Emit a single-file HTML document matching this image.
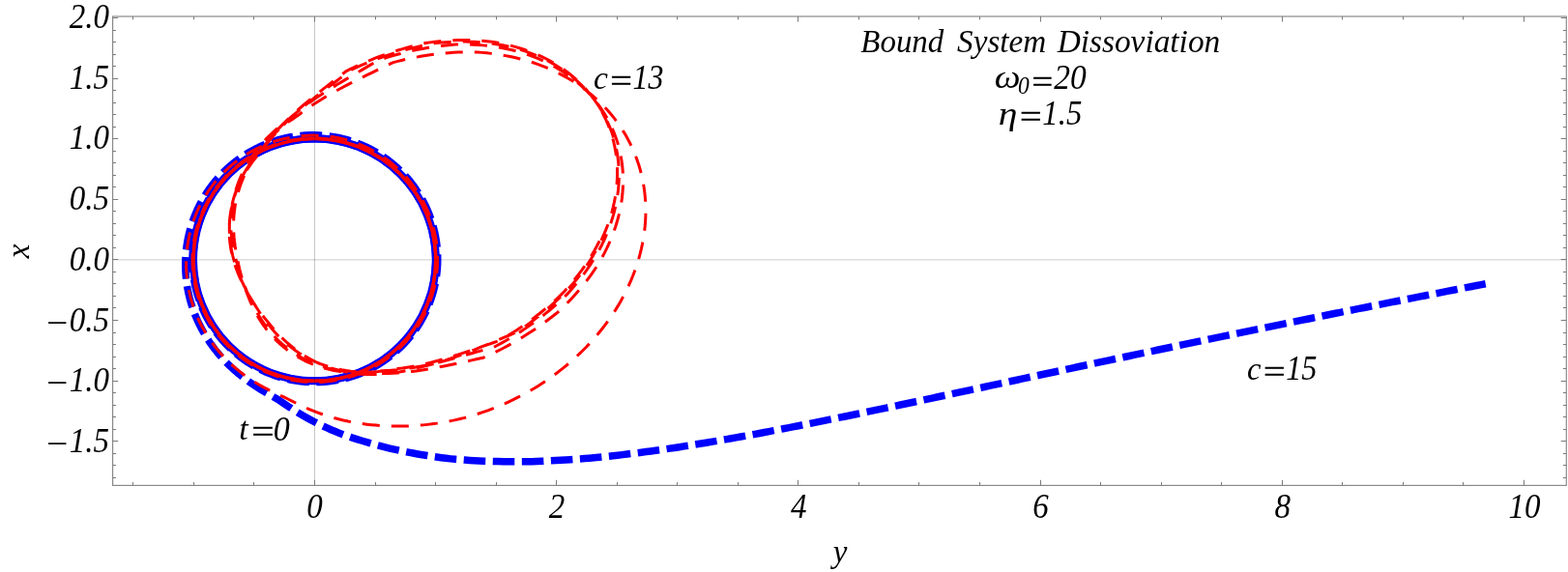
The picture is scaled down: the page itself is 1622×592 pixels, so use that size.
<!DOCTYPE html>
<html lang="en"><head><meta charset="utf-8"><title>Bound System Dissoviation</title>
<style>html,body{margin:0;padding:0;background:#fff}body{width:1622px;height:592px;overflow:hidden}svg{display:block}</style>
</head><body>
<svg width="1622" height="592" viewBox="0 0 1622 592">
<rect x="0" y="0" width="1622" height="592" fill="#fff"/>
<g fill="none" stroke-linecap="butt" stroke-linejoin="round">
<circle cx="325.40" cy="268.90" r="125.15" stroke="#0000ff" stroke-width="7.52"/>
<path stroke="#0000ff" stroke-width="7.52" stroke-dasharray="22.56 7.52" stroke-dashoffset="25.53" d="M450.52 266.36L450.33 261.41L449.93 256.47L449.34 251.56L448.56 246.67L447.59 241.81L446.42 237.00L445.07 232.24L443.53 227.54L441.80 222.91L439.90 218.34L437.81 213.86L435.55 209.46L433.12 205.16L430.53 200.95L427.76 196.85L424.84 192.87L421.77 189.00L418.54 185.26L415.18 181.64L411.67 178.17L408.03 174.83L404.26 171.65L400.36 168.61L396.36 165.73L392.24 163.01L388.02 160.45L383.70 158.06L379.29 155.85L374.80 153.81L370.23 151.95L365.59 150.27L360.89 148.77L356.13 147.46L351.33 146.34L346.49 145.41L341.61 144.67L336.71 144.12L331.80 143.76L326.87 143.60L321.94 143.63L317.02 143.86L312.11 144.28L307.22 144.89L302.35 145.70L297.53 146.69L292.74 147.87L288.01 149.25L283.33 150.80L278.72 152.54L274.19 154.46L269.73 156.55L265.35 158.82L261.07 161.26L256.89 163.86L252.82 166.63L248.85 169.55L245.01 172.63L241.28 175.86L237.69 179.23L234.24 182.74L230.92 186.38L227.75 190.15L224.73 194.04L221.87 198.04L219.16 202.16L216.62 206.38L214.25 210.69L212.04 215.10L210.02 219.58L208.17 224.15L206.50 228.78L205.01 233.48L203.71 238.22L202.60 243.02L201.68 247.86L200.95 252.73L200.41 257.62L200.06 262.53L199.90 267.45L199.94 272.37L200.17 277.29L200.60 282.19L201.21 287.08L202.02 291.93L203.02 296.75L204.21 301.53L205.58 306.26L207.14 310.93L208.88 315.53L210.80 320.07L212.89 324.52L215.16 328.89L217.60 333.17L220.20 337.34L222.97 341.41L225.90 345.37L228.97 349.22L232.20 352.93L235.57 356.52L239.08 359.98L242.72 363.29L246.49 366.46L250.38 369.48L254.38 372.34L258.50 375.05L262.72 377.59L267.04 379.96L271.44 382.16L275.93 384.19L280.50 386.04L285.13 387.70L289.83 389.19L294.58 390.49L299.38 391.60L304.22 392.52L309.09 393.25L313.98 393.79L318.90 394.14L323.82 394.29L328.75 394.25L333.67 394.02L338.58 393.59L343.46 392.97L348.32 392.16L353.15 391.16L357.93 389.97L362.66 388.60L367.33 387.04L371.94 385.29L376.48 383.37L380.94 381.26L385.31 378.99L389.60 376.54L393.78 373.93L397.85 371.16L401.82 368.23L405.66 365.14L409.38 361.91L412.97 358.53L416.43 355.01L419.74 351.36L422.91 347.58L425.93 343.68L428.79 339.67L431.49 335.54L434.03 331.31L436.40 326.99L438.60 322.58L440.62 318.08L442.47 313.51L444.13 308.86L445.61 304.16L446.90 299.40L448.01 294.60L448.92 289.75L449.65 284.87L450.18 279.97L450.52 275.05L450.66 270.12L450.62 265.19L450.37 260.26L449.94 255.35L449.31 250.46L448.49 245.60L447.48 240.77L446.28 235.99L444.89 231.25L443.32 226.58L441.56 221.97L439.63 217.43L437.52 212.98L435.24 208.61L432.78 204.33L430.16 200.15L427.38 196.08L424.44 192.13L421.35 188.29L418.10 184.57L414.72 180.99L411.20 177.54L407.54 174.23L403.76 171.07L399.86 168.06L395.84 165.21L391.71 162.52L387.48 159.99L383.16 157.62L378.74 155.44L374.25 153.42L369.68 151.59L365.04 149.93L360.33 148.46L355.58 147.17L350.78 146.07L345.93 145.17L341.06 144.45L336.16 143.92L331.25 143.59L326.33 143.45L321.40 143.50L316.48 143.75L311.58 144.18L306.70 144.82L301.84 145.64L297.02 146.65L292.25 147.85L287.52 149.23L282.86 150.80L278.26 152.56L273.73 154.49L269.28 156.59L264.92 158.87L260.66 161.32L256.49 163.93L252.42 166.71L248.47 169.64L244.64 172.72L240.93 175.95L237.35 179.33L233.91 182.84L230.60 186.48L227.45 190.25L224.44 194.14L221.58 198.15L218.89 202.26L216.36 206.48L214.00 210.79L211.80 215.19L209.78 219.67L207.94 224.23L206.28 228.86L204.80 233.55L203.51 238.29L202.40 243.08L201.48 247.91L200.75 252.77L200.21 257.66L199.86 262.56L199.71 267.47L199.75 272.39L199.98 277.30L200.40 282.20L201.01 287.07L201.82 291.92L202.81 296.73L203.99 301.51L205.35 306.23L206.90 310.89L208.64 315.49L210.54 320.02L212.63 324.47L214.89 328.83L217.31 333.11L219.91 337.28L222.66 341.35L225.57 345.31L228.63 349.15L231.85 352.87L235.20 356.47L238.69 359.92L242.32 363.24L246.07 366.42L249.94 369.44L253.93 372.31L258.03 375.03L262.24 377.58L266.53 379.96L270.92 382.18L275.40 384.22L279.94 386.08L284.56 387.77L289.24 389.27L293.98 390.59L298.76 391.72L303.59 392.67L308.44 393.42L313.33 393.99L318.23 394.36L323.14 394.54L328.06 394.53L332.97 394.33L337.87 393.93L342.75 393.34L347.61 392.57L352.43 391.60L357.21 390.45L361.94 389.10L366.61 387.58L371.22 385.87L375.77 383.99L380.23 381.92L384.61 379.69L388.90 377.28L393.10 374.71L397.19 371.98L401.17 369.09L405.03 366.04L408.77 362.85L412.38 359.51L415.86 356.03L419.20 352.42L422.40 348.69L425.45 344.83L428.35 340.85L431.08 336.76L433.66 332.57L436.07 328.29L438.31 323.91L440.38 319.44L442.27 314.90L443.98 310.29L445.51 305.62L446.86 300.89L448.02 296.11L448.99 291.29L449.77 286.43L450.37 281.55L450.77 276.65L450.98 271.73L451.00 266.81L450.82 261.90L450.45 256.99L449.90 252.11L449.15 247.25L448.21 242.42L447.08 237.63L445.77 232.89L444.27 228.21L442.60 223.59L440.74 219.03L438.71 214.56L436.50 210.17L434.12 205.86L431.58 201.65L428.87 197.55L426.01 193.55L422.99 189.67L419.83 185.91L416.52 182.28L413.07 178.78L409.49 175.42L405.78 172.20L401.94 169.13L397.99 166.21L393.93 163.44L389.77 160.84L385.50 158.40L381.15 156.13L376.71 154.03L372.19 152.11L367.60 150.36L362.95 148.79L358.24 147.41L353.48 146.21L348.68 145.20L343.84 144.37L338.97 143.74L334.09 143.29L329.18 143.04L324.28 142.98L319.37 143.10L314.48 143.42L309.60 143.93L304.74 144.63L299.92 145.52L295.13 146.59L290.39 147.85L285.71 149.29L281.08 150.91L276.53 152.71L272.04 154.69L267.64 156.84L263.32 159.16L259.10 161.64L254.97 164.29L250.96 167.09L247.05 170.05L243.27 173.16L239.61 176.41L236.07 179.80L232.67 183.33L229.41 186.98L226.30 190.76L223.33 194.65L220.52 198.66L217.87 202.77L215.38 206.98L213.05 211.29L210.89 215.68L208.91 220.15L207.10 224.70L205.46 229.31L204.01 233.98L202.74 238.71L201.65 243.47L200.75 248.28L200.03 253.12L199.51 257.98L199.17 262.86L199.02 267.74L199.06 272.63L199.29 277.51L199.71 282.38L200.31 287.23L201.11 292.06L202.08 296.84L203.25 301.59L204.59 306.29L206.12 310.93L207.82 315.50L209.70 320.01L211.75 324.45L213.98 328.79L216.36 333.05L218.91 337.22L221.62 341.28L224.49 345.24L227.50 349.08L230.66 352.80L233.96 356.40L237.40 359.86L240.96 363.20L244.66 366.39L248.47 369.43L252.40 372.33L256.44 375.07L260.58 377.66L264.81 380.08L269.14 382.34L273.55 384.43L278.03 386.35L282.59 388.10L287.21 389.66L291.89 391.05L296.61 392.26L301.38 393.28L306.18 394.12L311.02 394.78L315.87 395.25L320.74 395.53L325.61 395.62L330.48 395.53L335.35 395.25L340.20 394.78L345.03 394.13L349.83 393.29L354.59 392.27L359.32 391.07L363.99 389.68L368.61 388.12L373.16 386.38L377.64 384.47L382.05 382.39L386.37 380.14L390.60 377.73L394.73 375.16L398.77 372.43L402.69 369.55L406.51 366.52L410.20 363.35L413.77 360.04L417.20 356.59L420.51 353.02L423.67 349.32L426.69 345.51L429.57 341.59L432.28 337.55L434.85 333.42L437.25 329.20L439.49 324.88L441.57 320.49L443.47 316.02L445.20 311.48L446.76 306.88L448.14 302.22L449.35 297.51L450.37 292.76L451.21 287.98L451.87 283.17L452.35 278.34L452.64 273.49L452.75 268.64L452.67 263.79L452.41 258.95L451.97 254.12L451.34 249.31L450.53 244.53L449.54 239.79L448.38 235.09L447.03 230.43L445.51 225.83L443.82 221.30L441.97 216.83L439.94 212.44L437.75 208.12L435.40 203.90L432.89 199.77L430.23 195.73L427.42 191.80L424.47 187.98L421.37 184.27L418.14 180.68L414.78 177.22L411.29 173.89L407.68 170.69L403.95 167.63L399.97 164.60L395.87 161.74L391.67 159.03L387.37 156.50L382.98 154.13L378.50 151.93L373.94 149.91L369.31 148.07L364.61 146.41L359.85 144.93L355.05 143.63L350.20 142.52L345.31 141.60L340.39 140.87L335.45 140.32L330.50 139.97L325.54 139.80L320.58 139.83L315.63 140.04L310.69 140.44L305.76 141.03L300.87 141.81L296.01 142.77L291.19 143.91L286.43 145.24L281.72 146.74L277.07 148.42L272.49 150.27L267.99 152.29L263.57 154.47L259.24 156.82L255.00 159.33L250.87 161.99L246.84 164.80L242.92 167.76L239.11 170.86L235.43 174.09L231.87 177.46L228.44 180.95L225.14 184.57L221.99 188.30L218.97 192.13L216.10 196.08L213.38 200.12L210.81 204.25L208.39 208.48L206.12 212.80L204.01 217.20L202.07 221.66L200.29 226.19L198.68 230.77L197.23 235.40L195.95 240.08L194.84 244.79L193.90 249.53L193.11 254.46L192.50 259.41L192.07 264.38L191.82 269.35L191.74 274.31L191.85 279.27L192.14 284.21L192.59 289.13L193.23 294.02L194.03 298.88L195.00 303.69L196.13 308.46L197.43 313.18L198.88 317.85L200.49 322.45L202.27 327.02L204.23 331.58L206.34 336.06L208.59 340.45L210.99 344.75L213.51 348.96L216.17 353.07L218.95 357.07L221.84 360.97L224.85 364.77L228.07 368.57L231.39 372.26L234.81 375.82L238.32 379.26L241.91 382.58L245.58 385.77L249.44 388.95L253.36 391.99L257.34 394.91L261.37 397.71L265.44 400.40L269.55 402.98L273.81 405.54L278.10 408.01L282.43 410.47L286.68 412.92L290.73 415.60L294.79 418.36L298.89 421.10L303.04 423.79L307.24 426.43L311.49 429.00L315.78 431.50L320.12 433.91L324.50 436.24L328.92 438.49L333.37 440.64L337.85 442.71L342.35 444.69L346.87 446.58L351.41 448.38L355.95 450.09L360.65 451.77L365.34 453.35L370.03 454.85L374.71 456.27L379.44 457.66L384.16 459.06L388.86 460.38L393.66 461.66L398.43 462.88L403.17 464.03L408.00 465.14L412.79 466.19L417.68 467.21L422.52 468.17L427.32 469.07L432.20 469.94L437.04 470.76L441.96 471.55L446.84 472.29L451.67 472.98L456.58 473.65L461.44 474.27L466.39 474.87L471.02 475.33L475.91 475.72L480.88 476.09L485.82 476.41L490.71 476.69L495.68 476.94L500.61 477.15L505.50 477.33L510.46 477.48L515.39 477.60L520.38 477.70L525.33 477.76L530.25 477.80L535.23 477.81L540.18 477.80L545.09 477.76L550.08 477.68L554.99 477.51L559.97 477.32L564.92 477.10L569.84 476.86L574.83 476.59L579.78 476.30L584.70 475.99L589.59 475.66L594.55 475.31L599.48 474.94L604.38 474.55L609.34 474.14L614.28 473.72L619.19 473.28L624.08 472.80L628.97 472.29L633.93 471.75L638.86 471.19L643.76 470.62L648.64 470.04L653.59 469.44L658.51 468.82L663.41 468.19L668.29 467.56L673.24 466.90L678.16 466.23L683.07 465.55L687.95 464.86L692.81 464.15L697.67 463.42L702.59 462.66L707.50 461.90L712.39 461.13L717.26 460.35L722.11 459.57L727.03 458.76L731.93 457.95L736.82 457.13L741.69 456.31L746.54 455.48L751.47 454.63L756.38 453.77L761.29 452.89L766.18 452.01L771.05 451.12L775.91 450.23L780.76 449.34L785.60 448.44L790.50 447.52L795.40 446.60L800.28 445.67L805.15 444.74L810.01 443.81L814.86 442.88L819.71 441.93L824.54 440.98L829.36 440.03L834.26 439.06L839.15 438.08L844.03 437.10L848.90 436.13L853.77 435.14L858.62 434.16L863.47 433.18L868.31 432.19L873.14 431.21L877.97 430.22L882.79 429.22L887.60 428.22L892.50 427.20L897.38 426.18L902.26 425.16L907.14 424.14L912.01 423.12L916.87 422.10L921.73 421.08L926.59 420.06L931.44 419.03L936.29 418.01L941.14 416.98L945.98 415.95L950.82 414.92L955.65 413.89L960.49 412.86L965.32 411.83L970.14 410.80L974.97 409.77L979.79 408.73L984.61 407.70L989.43 406.67L994.25 405.64L999.07 404.61L1003.89 403.57L1008.70 402.53L1013.52 401.50L1018.33 400.46L1023.15 399.43L1027.96 398.40L1032.77 397.36L1037.58 396.33L1042.40 395.29L1047.21 394.26L1052.02 393.23L1056.84 392.19L1061.65 391.16L1066.47 390.12L1071.28 389.09L1076.10 388.05L1080.92 387.02L1085.73 385.98L1090.56 384.95L1095.38 383.92L1100.20 382.89L1105.02 381.86L1109.85 380.82L1114.68 379.79L1119.51 378.76L1124.34 377.73L1129.18 376.69L1134.01 375.66L1138.85 374.63L1143.70 373.60L1148.54 372.57L1153.39 371.54L1158.24 370.51L1163.09 369.49L1167.94 368.46L1172.80 367.43L1177.66 366.40L1182.52 365.37L1187.39 364.34L1192.26 363.32L1197.14 362.29L1202.01 361.26L1206.89 360.24L1211.78 359.21L1216.66 358.19L1221.56 357.16L1226.37 356.16L1231.18 355.15L1236.00 354.14L1240.83 353.14L1245.65 352.13L1250.48 351.13L1255.32 350.12L1260.16 349.12L1265.00 348.11L1269.85 347.11L1274.70 346.10L1279.55 345.10L1284.41 344.10L1289.28 343.10L1294.15 342.09L1299.02 341.09L1303.90 340.09L1308.78 339.09L1313.66 338.09L1318.55 337.09L1323.45 336.09L1328.27 335.10L1333.09 334.12L1337.91 333.14L1342.74 332.16L1347.57 331.18L1352.41 330.20L1357.26 329.21L1362.11 328.23L1366.96 327.25L1371.82 326.27L1376.68 325.29L1381.55 324.31L1386.42 323.33L1391.30 322.35L1396.18 321.38L1401.07 320.40L1405.96 319.42L1410.86 318.44L1415.76 317.46L1420.59 316.50L1425.41 315.54L1430.25 314.58L1435.08 313.62L1439.93 312.66L1444.77 311.70L1449.63 310.74L1454.48 309.79L1459.35 308.83L1464.22 307.87L1469.09 306.91L1473.97 305.95L1478.85 304.99L1483.74 304.03L1488.64 303.08L1493.54 302.12L1498.44 301.16L1503.27 300.22L1508.10 299.28L1512.93 298.34L1517.77 297.40L1522.61 296.46L1527.46 295.52L1532.32 294.58L1536.74 293.73"/>
<circle cx="325.40" cy="268.90" r="125.15" stroke="#ff0000" stroke-width="3.20"/>
<path stroke="#ff0000" stroke-width="3.00" stroke-dasharray="18.05 12.03" stroke-dashoffset="22.68" d="M450.52 266.36L450.33 261.44L449.94 256.53L449.36 251.65L448.58 246.79L447.62 241.96L446.47 237.18L445.13 232.45L443.61 227.78L441.90 223.17L440.02 218.63L437.96 214.16L435.73 209.79L433.33 205.50L430.76 201.32L428.03 197.23L425.14 193.26L422.10 189.41L418.91 185.67L415.58 182.07L412.11 178.60L408.51 175.26L404.78 172.08L400.93 169.04L396.96 166.15L392.89 163.42L388.71 160.86L384.43 158.46L380.07 156.22L375.62 154.17L371.09 152.28L366.49 150.58L361.83 149.06L357.12 147.72L352.36 146.56L347.55 145.60L342.71 144.82L337.85 144.23L332.97 143.83L328.07 143.62L323.17 143.61L318.28 143.78L313.39 144.15L308.53 144.71L303.69 145.46L298.88 146.39L294.11 147.52L289.40 148.82L284.73 150.32L280.13 151.99L275.60 153.84L271.14 155.87L266.77 158.07L262.48 160.43L258.29 162.97L254.20 165.66L250.23 168.51L246.36 171.52L242.62 174.67L239.00 177.97L235.52 181.41L232.17 184.98L228.96 188.67L225.90 192.49L222.99 196.43L220.24 200.48L217.65 204.63L215.22 208.88L212.96 213.22L210.87 217.64L208.96 222.15L207.22 226.72L205.66 231.36L204.29 236.05L203.09 240.80L202.09 245.59L201.27 250.41L200.64 255.26L200.21 260.14L199.96 265.02L199.90 269.91L200.03 274.81L200.36 279.69L200.87 284.55L201.58 289.39L202.47 294.20L203.55 298.97L204.81 303.70L206.26 308.37L207.89 312.98L209.70 317.53L211.68 322.00L213.84 326.39L216.17 330.70L218.66 334.90L221.31 339.01L224.13 343.02L227.10 346.90L230.21 350.68L233.47 354.32L236.88 357.84L240.41 361.22L244.08 364.46L247.87 367.55L251.78 370.50L255.80 373.29L259.92 375.92L264.15 378.39L268.47 380.69L272.87 382.83L277.36 384.78L281.92 386.57L286.54 388.17L291.23 389.59L295.96 390.83L300.74 391.88L305.56 392.74L310.41 393.42L315.28 393.90L320.17 394.20L325.06 394.30L329.96 394.21L334.85 393.93L339.72 393.46L344.57 392.80L349.39 391.96L354.18 390.92L358.92 389.70L363.61 388.29L368.24 386.71L372.81 384.94L377.31 382.99L381.72 380.87L386.05 378.58L390.29 376.12L394.43 373.50L398.46 370.72L402.38 367.78L406.19 364.69L409.87 361.46L413.42 358.08L416.84 354.57L420.11 350.93L423.25 347.16L426.23 343.27L429.06 339.27L431.73 335.16L434.24 330.95L436.58 326.65L438.75 322.26L440.75 317.78L442.57 313.23L444.21 308.62L445.67 303.94L446.95 299.21L448.04 294.43L448.94 289.61L449.66 284.77L450.19 279.89L450.52 275.00L450.66 270.10L450.61 265.20L450.37 260.31L449.94 255.43L449.32 250.57L448.51 245.73L447.51 240.93L446.33 236.18L444.96 231.47L443.41 226.83L441.67 222.24L439.76 217.73L437.68 213.30L435.42 208.95L432.99 204.69L430.40 200.53L427.65 196.47L424.75 192.53L421.69 188.70L418.48 185.00L415.14 181.42L411.65 177.97L408.04 174.67L404.29 171.51L400.43 168.50L396.46 165.64L392.37 162.93L388.19 160.39L383.90 158.02L379.53 155.81L375.08 153.78L370.55 151.92L365.95 150.24L361.29 148.74L356.57 147.43L351.81 146.30L347.01 145.35L342.17 144.60L337.31 144.03L332.43 143.65L327.54 143.47L322.64 143.47L317.75 143.67L312.87 144.05L308.02 144.63L303.18 145.39L298.38 146.35L293.62 147.49L288.91 148.81L284.26 150.32L279.67 152.00L275.15 153.87L270.70 155.90L266.34 158.11L262.07 160.49L257.89 163.03L253.82 165.73L249.85 168.59L246.00 171.61L242.27 174.76L238.66 178.07L235.19 181.51L231.85 185.08L228.66 188.78L225.61 192.60L222.71 196.53L219.97 200.58L217.39 204.73L214.97 208.97L212.72 213.31L210.64 217.73L208.73 222.23L207.00 226.80L205.45 231.44L204.08 236.13L202.89 240.87L201.89 245.65L201.08 250.46L200.45 255.31L200.02 260.17L199.77 265.05L199.71 269.94L199.84 274.82L200.17 279.69L200.68 284.55L201.38 289.39L202.27 294.19L203.34 298.95L204.60 303.67L206.04 308.34L207.66 312.95L209.46 317.49L211.43 321.95L213.58 326.34L215.90 330.64L218.38 334.85L221.02 338.95L223.82 342.96L226.77 346.84L229.88 350.62L233.12 354.26L236.51 357.78L240.03 361.17L243.68 364.41L247.46 367.51L251.35 370.47L255.35 373.27L259.46 375.91L263.67 378.39L267.97 380.70L272.36 382.85L276.83 384.82L281.37 386.62L285.98 388.24L290.65 389.67L295.37 390.93L300.14 392.00L304.94 392.89L309.78 393.59L314.64 394.10L319.51 394.42L324.40 394.55L329.28 394.49L334.16 394.24L339.03 393.80L343.87 393.17L348.69 392.36L353.47 391.35L358.21 390.17L362.90 388.80L367.54 387.24L372.11 385.51L376.61 383.60L381.03 381.52L385.37 379.27L389.62 376.85L393.77 374.27L397.82 371.53L401.75 368.63L405.57 365.58L409.27 362.39L412.85 359.05L416.29 355.58L419.59 351.97L422.75 348.24L425.76 344.39L428.63 340.43L431.33 336.36L433.88 332.19L436.26 327.92L438.47 323.56L440.51 319.12L442.38 314.60L444.07 310.01L445.58 305.36L446.91 300.66L448.05 295.91L449.01 291.11L449.78 286.29L450.37 281.43L450.76 276.56L450.97 271.68L450.98 266.79L450.81 261.90L450.45 257.03L449.89 252.17L449.15 247.34L448.22 242.54L447.11 237.79L445.81 233.07L444.33 228.42L442.67 223.82L440.84 219.29L438.83 214.84L436.64 210.47L434.29 206.18L431.78 202.00L429.10 197.91L426.27 193.93L423.29 190.06L420.15 186.31L416.88 182.69L413.47 179.19L409.92 175.83L406.25 172.62L402.46 169.54L398.55 166.62L394.53 163.85L390.40 161.24L386.18 158.79L381.87 156.51L377.47 154.39L372.99 152.45L368.44 150.68L363.83 149.09L359.16 147.68L354.44 146.45L349.67 145.41L344.87 144.55L340.04 143.88L335.18 143.40L330.32 143.10L325.44 142.99L320.56 143.07L315.69 143.34L310.84 143.80L306.01 144.45L301.20 145.28L296.44 146.30L291.71 147.50L287.04 148.88L282.43 150.44L277.88 152.18L273.40 154.10L268.99 156.18L264.68 158.43L260.45 160.85L256.32 163.43L252.29 166.17L248.37 169.06L244.57 172.09L240.89 175.28L237.33 178.60L233.90 182.06L230.61 185.64L227.46 189.35L224.46 193.18L221.61 197.12L218.91 201.17L216.37 205.32L213.99 209.56L211.78 213.89L209.73 218.31L207.86 222.80L206.16 227.35L204.64 231.97L203.30 236.64L202.14 241.37L201.16 246.13L200.37 250.92L199.76 255.74L199.33 260.59L199.10 265.44L199.05 270.30L199.19 275.16L199.51 280.00L200.02 284.83L200.72 289.64L201.60 294.42L202.66 299.16L203.91 303.85L205.33 308.50L206.93 313.08L208.71 317.60L210.66 322.05L212.78 326.42L215.06 330.70L217.51 334.89L220.11 338.99L222.87 342.98L225.78 346.86L228.84 350.63L232.04 354.28L235.38 357.80L238.85 361.19L242.45 364.45L246.17 367.57L250.01 370.54L253.96 373.36L258.01 376.03L262.16 378.54L266.41 380.88L270.74 383.07L275.15 385.09L279.63 386.93L284.19 388.61L288.80 390.10L293.46 391.42L298.18 392.56L302.93 393.52L307.71 394.30L312.53 394.89L317.36 395.30L322.20 395.52L327.04 395.56L331.89 395.41L336.72 395.08L341.54 394.56L346.33 393.86L351.10 392.98L355.82 391.91L360.51 390.67L365.14 389.24L369.71 387.65L374.22 385.87L378.66 383.93L383.02 381.82L387.30 379.55L391.48 377.11L395.57 374.52L399.56 371.77L403.44 368.88L407.21 365.84L410.85 362.65L414.38 359.33L417.77 355.88L421.03 352.31L424.15 348.61L427.13 344.80L429.96 340.88L432.63 336.85L435.16 332.73L437.52 328.51L439.72 324.21L441.76 319.82L443.63 315.37L445.33 310.84L446.85 306.26L448.20 301.62L449.38 296.93L450.37 292.21L451.19 287.45L451.82 282.66L452.28 277.85L452.55 273.03L452.63 268.21L452.54 263.38L452.26 258.57L451.80 253.76L451.17 248.98L450.35 244.23L449.35 239.52L448.18 234.84L446.83 230.22L445.31 225.65L443.61 221.14L441.75 216.70L439.73 212.33L437.54 208.05L435.20 203.85L432.70 199.74L430.04 195.73L427.24 191.82L424.30 188.02L421.21 184.34L417.99 180.77L414.64 177.33L411.17 174.01L407.57 170.83L403.86 167.79L400.04 164.89L396.12 162.13L392.09 159.52L387.98 157.07L383.78 154.77L379.49 152.63L375.13 150.65L370.70 148.83L366.21 147.18L361.67 145.70L357.07 144.39L352.43 143.25L347.76 142.28L343.05 141.49L338.32 140.87L333.57 140.43L328.81 140.16L324.04 140.06L319.28 140.14L314.53 140.40L309.79 140.83L305.06 141.43L300.37 142.21L295.71 143.16L291.09 144.27L286.51 145.55L281.99 147.00L277.52 148.61L273.12 150.38L268.79 152.31L264.54 154.39L260.36 156.63L256.27 159.01L252.28 161.54L248.38 164.21L244.58 167.01L240.88 169.95L237.30 173.01L233.83 176.20L230.48 179.51L227.25 182.94L224.15 186.47L221.18 190.11L218.34 193.85L215.64 197.69L213.08 201.62L210.66 205.63L208.38 209.72L206.24 213.90L204.26 218.15L202.43 222.46L200.75 226.83L199.23 231.25L197.86 235.72L196.57 240.55L195.46 245.42L194.54 250.32L193.80 255.24L193.24 260.19L192.86 265.14L192.66 270.10L192.65 275.06L192.81 280.00L193.16 284.93L193.68 289.83L194.37 294.71L195.24 299.55L196.28 304.35L197.48 309.10L198.85 313.80L200.38 318.44L202.07 323.01L203.91 327.52L205.95 332.03L208.14 336.47L210.48 340.82L212.97 345.07L215.59 349.23L218.34 353.28L221.22 357.23L224.22 361.07L227.34 364.79L230.56 368.40L233.89 371.88L237.31 375.25L240.82 378.50L244.41 381.62L248.08 384.62L251.82 387.49L255.63 390.24L259.74 393.04L263.92 395.70L268.15 398.24L272.41 400.64L276.72 402.92L281.05 405.09L285.40 407.16L289.70 409.12L294.21 411.16L297.36 412.72L301.57 414.89L305.80 417.03L310.08 419.11L314.40 421.12L318.75 423.04L323.15 424.87L327.58 426.60L332.04 428.24L336.52 429.77L341.03 431.20L345.56 432.53L350.38 433.82L355.22 435.00L360.05 436.06L364.89 437.01L369.72 437.85L374.55 438.57L379.35 439.18L384.13 439.69L388.89 440.10L393.80 440.46L398.58 440.76L403.32 440.96L408.27 441.08L413.17 441.11L418.02 441.04L422.82 440.89L427.81 440.64L432.73 440.30L437.60 439.88L442.39 439.38L447.13 438.81L452.03 438.13L456.86 437.37L461.62 436.54L466.31 435.64L471.16 434.63L475.92 433.55L480.62 432.40L485.33 431.10L489.98 429.71L494.55 428.27L499.26 426.69L503.89 425.05L508.44 423.35L512.91 421.60L517.49 419.71L521.98 417.76L526.40 415.77L530.91 413.64L535.33 411.45L539.66 409.22L543.91 406.94L548.23 404.52L552.48 402.03L556.68 399.44L560.78 396.80L564.80 394.12L568.88 391.29L572.86 388.41L576.75 385.50L580.69 382.44L584.53 379.35L588.28 376.22L591.93 373.05L595.61 369.74L599.18 366.40L602.66 363.02L606.17 359.47L609.57 355.86L612.88 352.23L616.08 348.57L619.27 344.77L622.36 340.94L625.34 337.08L628.31 333.08L631.16 329.06L633.91 325.02L636.62 320.84L639.21 316.64L641.69 312.40L644.06 308.14L646.37 303.74L648.57 299.33L650.64 294.91L652.65 290.35L654.53 285.79L656.29 281.22L657.97 276.51L659.51 271.81L660.93 267.11L662.21 262.39L663.39 257.55L664.44 252.71L665.35 247.88L666.12 243.06L666.77 238.12L667.28 233.19L667.65 228.28L667.87 223.39L667.95 218.52L667.89 213.53L667.67 208.57L667.31 203.64L666.79 198.74L666.13 193.86L665.32 189.02L664.36 184.22L663.24 179.45L661.98 174.72L660.57 170.04L659.01 165.40L657.30 160.80L655.44 156.26L653.43 151.77L651.27 147.33L648.95 142.94L646.48 138.61L643.93 134.46L641.23 130.36L638.39 126.33L635.41 122.38L632.27 118.50L629.08 114.78L625.75 111.13L622.27 107.56L618.75 104.15L615.09 100.82L611.40 97.65L607.58 94.56L603.64 91.56L599.58 88.66L595.51 85.92L591.31 83.27L587.11 80.77L582.80 78.35L578.49 76.08L574.07 73.90L569.67 71.86L565.16 69.91L560.55 68.05L555.97 66.33L551.34 64.76L546.62 63.28L541.95 61.95L537.18 60.69L532.47 59.56L527.66 58.52L522.93 57.60L518.11 56.76L513.18 56.00L508.35 55.37L503.43 54.82L498.62 54.38L493.72 54.03L488.77 53.80L483.93 53.81L479.01 53.91L474.20 54.09L469.29 54.35L464.51 54.68L459.64 55.10L454.67 55.60L449.84 56.17L444.92 56.82L440.14 57.53L435.28 58.33L430.58 59.17L425.81 60.11L420.97 61.14L416.31 62.21L411.58 63.37L406.80 64.64L406.15 64.89L401.77 66.97L397.27 69.13L392.84 71.27L388.49 73.38L384.00 75.57L379.59 77.72L375.28 79.84L370.84 82.04L366.52 84.20L362.08 86.46L357.78 88.67L353.37 90.99L349.15 93.26L344.83 95.64L340.73 97.97L336.56 100.41L332.32 102.96L328.33 105.45L324.31 108.05L320.24 110.78L316.15 113.65L312.35 116.41L308.82 119.06L304.85 121.66L300.93 124.40L297.05 127.26L293.23 130.26L289.47 133.39L285.80 136.65L282.22 140.04L278.73 143.56L275.36 147.20L272.10 150.96L268.98 154.84L265.99 158.82L263.15 162.90L260.47 167.09L257.95 171.35L255.60 175.70L253.42 180.12L251.43 184.59L249.61 189.12L247.99 193.68L246.55 198.27L245.30 202.87L244.24 207.48L243.37 212.08L242.68 216.67L242.16 221.23L241.79 226.19L241.61 231.10L241.62 235.95L241.79 240.71L242.12 245.40L242.58 249.99L243.23 254.91L243.99 259.72L244.85 264.44L245.80 269.09L246.76 273.83L247.83 278.51L249.00 283.14L250.26 287.73L251.63 292.30L253.10 296.86L254.68 301.41L256.40 305.98L258.25 310.55L260.08 314.72L262.06 318.90L264.20 323.08L266.53 327.26L269.05 331.43L271.78 335.56L274.42 339.25L277.24 342.89L280.25 346.47L283.46 349.97L286.85 353.38L290.44 356.69L294.22 359.88L297.73 362.60L301.39 365.21L305.18 367.69L309.11 370.04L313.16 372.24L317.32 374.30L321.59 376.21L325.97 377.95L330.43 379.52L334.97 380.93L339.58 382.16L344.24 383.21L348.96 384.09L353.71 384.80L358.49 385.32L363.28 385.68L368.07 385.86L372.86 385.87L377.62 385.72L382.45 386.10L387.22 386.34L391.93 386.47L396.57 386.50L401.55 386.41L406.44 386.22L411.23 385.93L415.92 385.56L420.89 385.08L425.74 384.52L430.48 383.90L435.09 383.23L439.93 382.47L444.63 381.67L449.52 380.78L454.27 379.88L459.17 378.91L463.92 377.94L468.80 376.93L473.51 375.93L478.35 374.90L483.02 373.90L487.79 372.87L492.65 371.83L497.36 370.81L499.90 370.26L504.36 368.29L508.72 366.27L512.98 364.21L517.37 362.01L521.65 359.77L526.04 357.40L530.31 355.00L534.46 352.60L538.70 350.06L542.82 347.52L547.01 344.85L551.08 342.18L555.21 339.40L559.22 336.61L563.27 333.71L567.19 330.81L571.15 327.79L574.98 324.76L577.01 323.08L580.59 319.76L584.04 316.42L587.52 312.93L590.87 309.43L594.24 305.77L597.47 302.11L600.70 298.31L603.80 294.50L606.76 290.70L609.71 286.76L612.51 282.82L615.29 278.74L617.93 274.67L620.51 270.46L622.96 266.18L625.26 261.86L627.49 257.39L629.58 252.94L631.52 248.50L633.37 243.93L635.08 239.38L636.68 234.70L638.13 230.05L639.47 225.28L640.65 220.53L641.70 215.68L642.58 210.82L643.29 205.97L643.86 201.02L644.26 196.11L644.49 191.24L644.55 186.28L644.45 181.36L644.18 176.50L643.72 171.55L643.09 166.66L642.28 161.82L641.29 157.03L640.10 152.18L638.74 147.39L637.19 142.67L635.46 138.02L633.57 133.45L631.49 128.96L629.25 124.54L626.83 120.21L624.24 115.96L621.48 111.80L618.63 107.84L615.62 103.97L612.45 100.19L609.11 96.49L605.72 92.99L602.17 89.58L598.47 86.27L594.73 83.14L590.84 80.11L586.84 77.21L582.81 74.49L578.65 71.86L574.35 69.34L570.05 66.98L565.61 64.73L561.19 62.64L556.65 60.65L552.12 58.82L547.49 57.09L542.89 55.52L538.23 54.08L533.49 52.78L528.64 51.58L523.84 50.52L518.94 49.56L514.11 48.72L509.18 47.99L504.32 47.38L499.37 46.87L494.51 46.47L489.56 46.18L484.72 45.99L479.80 45.90L475.00 45.91L471.30 46.09L466.41 46.45L461.44 46.91L456.58 47.44L451.63 48.07L446.80 48.76L441.88 49.55L437.08 50.40L432.20 51.33L427.47 52.32L422.65 53.40L417.99 54.52L413.27 55.74L408.47 57.05L403.85 58.40L399.17 59.85L394.44 61.41L391.19 62.54L386.98 64.98L382.86 67.40L378.60 69.90L374.41 72.36L370.29 74.78L366.03 77.28L361.86 79.73L357.79 82.14L353.60 84.63L349.54 87.07L345.37 89.62L341.36 92.10L337.26 94.69L333.07 97.39L329.08 100.03L325.03 102.79L321.21 105.46L317.34 108.25L313.44 111.17L309.50 114.22L305.85 117.16L302.19 120.22L298.53 123.41L296.39 125.34L292.75 128.08L289.16 130.95L285.64 133.94L282.18 137.05L278.80 140.27L275.51 143.60L272.31 147.05L269.22 150.61L266.25 154.27L263.39 158.04L260.67 161.89L258.09 165.84L255.65 169.87L253.36 173.97L251.22 178.14L249.25 182.37L247.44 186.65L245.81 190.97L244.34 195.32L243.04 199.69L241.92 204.08L240.88 208.96L240.05 213.83L239.43 218.68L239.01 223.49L238.78 228.26L238.75 232.97L238.89 237.61L239.20 242.17L239.71 247.10L240.40 251.92L241.24 256.62L242.21 261.21L243.29 265.70L244.57 270.46L245.95 275.12L247.39 279.68L248.90 284.15L250.52 288.85L252.10 293.16L253.75 297.45L255.48 301.72L257.30 305.98L259.22 310.25L261.26 314.53L263.43 318.82L265.77 323.13L268.29 327.44L270.75 331.35L273.39 335.24L276.22 339.11L279.25 342.93L282.50 346.70L285.60 350.02L288.88 353.26L292.34 356.42L295.98 359.47L299.79 362.40L303.77 365.20L307.92 367.86L312.22 370.36L316.17 372.44L320.24 374.38L324.40 376.18L328.67 377.82L333.01 379.31L337.44 380.64L341.93 381.80L346.49 382.80L351.09 383.63L355.73 384.29L360.40 384.78L365.09 385.10L369.79 385.26L374.49 385.26L379.18 385.09L383.84 384.77L388.49 384.30L393.02 383.73L397.81 383.61L402.51 383.38L407.14 383.05L412.10 382.59L416.95 382.03L421.70 381.39L426.34 380.67L431.26 379.83L436.04 378.92L440.71 377.97L445.59 376.90L450.33 375.80L454.93 374.67L459.72 373.46L464.35 372.24L469.14 370.95L473.77 369.68L478.52 368.35L483.12 367.07L487.82 365.74L492.62 364.40L497.25 363.10L501.97 361.79L506.77 360.46L510.98 359.27L515.21 357.04L519.57 354.66L523.82 352.24L527.95 349.80L532.19 347.20L536.31 344.60L540.32 341.98L544.40 339.22L548.37 336.46L552.41 333.57L556.32 330.68L560.28 327.66L564.12 324.65L568.00 321.52L571.75 318.39L575.53 315.14L579.17 311.90L582.84 308.52L586.29 304.90L589.61 301.26L592.80 297.61L596.00 293.80L599.06 290.00L602.11 286.04L605.03 282.09L607.82 278.15L610.57 274.07L613.19 270.00L615.76 265.79L618.20 261.60L620.58 257.27L622.81 252.96L624.90 248.57L626.90 244.01L628.76 239.47L630.52 234.80L632.13 230.16L633.59 225.54L634.94 220.79L636.14 216.09L637.21 211.26L638.12 206.47L638.90 201.58L639.50 196.72L639.94 191.87L640.21 186.91L640.32 182.00L640.26 177.14L640.02 172.19L639.61 167.30L639.03 162.47L638.26 157.56L637.31 152.72L636.19 147.95L634.89 143.24L633.41 138.60L631.72 133.90L629.85 129.29L627.80 124.76L625.57 120.31L623.17 115.95L620.60 111.67L617.92 107.60L615.08 103.62L612.08 99.74L608.93 95.95L605.61 92.26L602.13 88.68L598.58 85.28L594.89 81.99L591.04 78.80L587.16 75.79L583.13 72.89L579.07 70.18L574.89 67.57L570.60 65.10L566.30 62.80L561.88 60.61L557.47 58.58L552.93 56.66L548.28 54.84L543.65 53.18L538.90 51.63L534.20 50.22L529.39 48.93L524.64 47.78L519.80 46.75L514.94 45.90L510.16 45.17L505.27 44.55L500.47 44.05L495.57 43.65L490.76 43.35L485.86 43.16L480.87 43.06L475.98 43.07L471.01 43.17L466.16 43.38L461.23 43.68L456.44 44.07L451.58 44.56L449.28 44.85L444.49 45.74L439.63 46.73L434.88 47.77L430.04 48.90L425.32 50.07L420.51 51.34L415.83 52.64L411.06 54.03L406.43 55.45L401.72 56.97L397.17 58.50L392.55 60.12L388.10 61.76L383.59 63.49L379.02 65.32L374.65 67.16L370.23 69.09L365.77 71.14L363.65 72.14L359.79 75.00L355.83 77.97L351.95 80.89L348.15 83.74L344.23 86.69L340.40 89.57L336.46 92.56L332.64 95.48L328.71 98.51L324.94 101.46L321.08 104.54L317.40 107.52L313.65 110.63L309.85 113.86L306.28 117.00L302.67 120.25L299.03 123.65L295.66 126.91L292.28 130.30L288.91 133.82L285.56 137.48L282.51 140.95L279.49 144.55L276.52 148.28L273.59 152.13L270.99 155.74L267.80 159.30L264.65 163.02L261.64 166.87L258.77 170.82L256.05 174.88L253.49 179.03L251.10 183.28L248.88 187.60L246.85 191.99L245.00 196.44L243.35 200.93L241.88 205.46L240.62 210.02L239.55 214.59L238.67 219.16L238.00 223.72L237.51 228.27L237.21 232.78L237.10 237.25L237.18 242.22L237.48 247.11L237.98 251.92L238.67 256.63L239.54 261.23L240.58 265.73L241.77 270.11L243.24 274.85L244.87 279.44L246.62 283.90L248.49 288.23L250.45 292.43L252.51 296.52L254.86 300.91L257.29 305.18L259.81 309.37L262.42 313.48L265.12 317.53L267.92 321.52L270.84 325.46L273.88 329.36L277.06 333.20L280.10 336.93L283.22 340.61L286.49 344.26L289.92 347.88L293.22 351.15L296.68 354.36L300.29 357.49L304.07 360.54L308.01 363.48L312.10 366.29L315.96 368.74L319.95 371.06L324.05 373.26L328.26 375.31L332.58 377.22L336.99 378.98L341.49 380.58L346.07 382.02L350.72 383.30L355.42 384.41L360.17 385.35L364.96 386.12L369.78 386.72L374.61 387.15L379.46 387.42L384.30 387.53L389.14 387.48L393.95 387.28L398.74 386.93L403.49 386.44L408.20 385.81L412.87 385.05L417.48 384.17L422.02 383.17L426.51 382.06L430.92 380.85L435.57 379.83L440.07 378.78L444.84 377.58L449.49 376.31L454.03 375.00L458.79 373.54L463.42 372.05L467.92 370.52L472.61 368.88L477.15 367.22L481.56 365.56L486.12 363.80L490.54 362.06L495.09 360.23L499.49 358.44L504.00 356.58L508.60 354.66L513.04 352.80L517.57 350.89L522.17 348.94L526.62 347.04L531.13 345.10L535.13 343.32L539.18 340.60L543.12 337.86L547.15 334.95L551.06 332.03L554.85 329.09L558.71 326.01L562.44 322.92L566.23 319.68L569.89 316.45L573.43 313.22L577.00 309.85L580.45 306.49L583.92 303.00L587.26 299.51L590.60 295.89L593.82 292.28L597.03 288.50L600.00 284.62L602.85 280.74L605.68 276.71L608.37 272.68L611.04 268.51L613.56 264.35L616.03 260.05L618.37 255.76L620.64 251.34L622.77 246.94L624.81 242.41L626.71 237.90L628.52 233.27L630.17 228.60L631.66 223.92L633.04 219.11L634.25 214.34L635.32 209.60L636.25 204.75L637.02 199.94L637.66 195.02L638.12 190.15L638.43 185.19L638.57 180.27L638.54 175.39L638.32 170.41L637.93 165.48L637.37 160.61L636.61 155.67L635.67 150.80L634.56 145.99L633.27 141.26L631.81 136.60L630.13 131.89L628.27 127.27L626.24 122.72L624.02 118.26L621.63 113.89L619.06 109.61L616.39 105.54L613.56 101.55L610.56 97.66L607.40 93.86L604.08 90.16L600.60 86.58L597.07 83.20L593.39 79.92L589.55 76.74L585.68 73.75L581.66 70.87L577.62 68.17L573.44 65.58L569.13 63.09L564.81 60.78L560.38 58.59L555.85 56.53L551.33 54.64L546.69 52.86L542.08 51.23L537.35 49.72L532.67 48.35L527.88 47.09L523.15 45.98L518.31 44.97L513.54 44.09L508.69 43.32L503.81 42.73L498.86 42.25L494.00 41.89L489.04 41.64L484.17 41.49L479.22 41.45L474.37 41.50L469.44 41.66L464.63 41.91L459.74 42.26L454.77 42.71L449.94 43.24L445.04 43.88L440.29 44.59L435.57 45.60L430.82 46.73L425.98 47.95L421.27 49.22L416.48 50.59L411.83 51.99L407.09 53.48L402.50 55.00L397.83 56.61L393.32 58.24L388.74 59.97L384.09 61.80L379.63 63.64L375.10 65.58L370.78 67.51L366.41 69.54L362.00 71.69L358.36 73.55L354.46 76.53L350.65 79.47L346.72 82.50L342.89 85.48L339.16 88.38L335.31 91.39L331.59 94.33L327.76 97.37L324.07 100.34L320.30 103.42L316.71 106.41L313.05 109.51L309.32 112.75L305.81 115.87L302.26 119.12L298.68 122.51L295.36 125.76L292.03 129.13L288.69 132.63L285.37 136.28L282.34 139.74L279.34 143.32L276.37 147.03L273.45 150.87L272.09 152.68L268.96 156.12L265.93 159.68L263.01 163.35L260.21 167.12L257.55 171.00L255.02 174.96L252.65 179.02L250.43 183.15L248.37 187.35L246.48 191.61L244.76 195.93L243.21 200.28L241.84 204.67L240.66 209.08L239.65 213.51L238.83 217.93L238.18 222.34L237.67 227.29L237.37 232.19L237.29 237.05L237.41 241.84L237.73 246.56L238.23 251.20L238.91 255.74L239.74 260.19L240.85 265.02L242.11 269.71L243.53 274.27L245.07 278.71L246.72 283.02L248.66 287.63L250.69 292.11L252.80 296.48L255.00 300.75L257.27 304.94L259.62 309.06L262.05 313.12L264.57 317.15L267.26 321.31L269.98 325.38L272.82 329.45L275.56 333.16L278.43 336.87L281.46 340.55L284.67 344.19L288.05 347.79L291.29 350.99L294.69 354.13L298.26 357.18L302.00 360.14L305.89 362.98L309.95 365.69L314.17 368.27L318.53 370.69L322.58 372.73L326.74 374.63L330.99 376.39L335.34 377.99L339.76 379.44L344.26 380.73L348.83 381.85L353.45 382.81L358.11 383.60L362.80 384.22L367.52 384.68L372.25 384.97L376.99 385.11L381.72 385.08L386.43 384.90L391.12 384.57L395.78 384.10L400.40 383.49L404.97 382.75L409.49 381.88L411.37 381.55L416.30 380.94L421.13 380.23L425.87 379.45L430.50 378.59L435.39 377.58L440.17 376.51L444.82 375.40L449.35 374.24L454.09 372.95L458.70 371.65L463.49 370.23L468.14 368.81L472.64 367.39L477.30 365.89L481.80 364.40L486.44 362.85L490.92 361.34L495.52 359.77L500.21 358.16L504.76 356.59L509.39 354.98L514.10 353.33L516.96 352.29L521.26 349.83L525.45 347.34L529.52 344.82L533.71 342.14L537.77 339.45L541.72 336.74L545.75 333.89L549.67 331.03L553.65 328.02L557.50 325.02L561.23 322.02L565.02 318.89L568.68 315.76L572.38 312.50L575.95 309.24L579.55 305.84L583.02 302.42L586.26 298.86L589.52 295.14L592.65 291.42L595.78 287.54L598.77 283.67L601.64 279.80L604.48 275.78L607.20 271.77L609.88 267.62L612.42 263.49L614.92 259.21L617.27 254.95L619.57 250.55L620.47 248.73"/>
</g>
<g fill="none" stroke="#000" stroke-opacity="0.17">
<line x1="116.60" y1="268.90" x2="1620.30" y2="268.90" stroke-width="1.25"/>
<line x1="325.40" y1="17.00" x2="325.40" y2="502.40" stroke-width="1.0" stroke-opacity="0.24"/>
</g>
<rect x="116.60" y="17.00" width="1503.70" height="485.40" stroke="#868686" stroke-width="1.15" fill="none"/>
<path stroke="#7c7c7c" stroke-width="1.0" fill="none" d="M137.50 502.40v-3.40M137.50 17.00v3.40M200.50 502.40v-3.40M200.50 17.00v3.40M262.50 502.40v-3.40M262.50 17.00v3.40M325.50 502.40v-5.60M325.50 17.00v5.60M388.50 502.40v-3.40M388.50 17.00v3.40M450.50 502.40v-3.40M450.50 17.00v3.40M513.50 502.40v-3.40M513.50 17.00v3.40M575.50 502.40v-5.60M575.50 17.00v5.60M638.50 502.40v-3.40M638.50 17.00v3.40M700.50 502.40v-3.40M700.50 17.00v3.40M763.50 502.40v-3.40M763.50 17.00v3.40M825.50 502.40v-5.60M825.50 17.00v5.60M888.50 502.40v-3.40M888.50 17.00v3.40M950.50 502.40v-3.40M950.50 17.00v3.40M1013.50 502.40v-3.40M1013.50 17.00v3.40M1076.50 502.40v-5.60M1076.50 17.00v5.60M1138.50 502.40v-3.40M1138.50 17.00v3.40M1201.50 502.40v-3.40M1201.50 17.00v3.40M1263.50 502.40v-3.40M1263.50 17.00v3.40M1326.50 502.40v-5.60M1326.50 17.00v5.60M1388.50 502.40v-3.40M1388.50 17.00v3.40M1451.50 502.40v-3.40M1451.50 17.00v3.40M1513.50 502.40v-3.40M1513.50 17.00v3.40M1576.50 502.40v-5.60M1576.50 17.00v5.60M116.60 494.50h3.40M1620.30 494.50h-3.40M116.60 481.50h3.40M1620.30 481.50h-3.40M116.60 469.50h3.40M1620.30 469.50h-3.40M116.60 456.50h5.60M1620.30 456.50h-5.60M116.60 444.50h3.40M1620.30 444.50h-3.40M116.60 431.50h3.40M1620.30 431.50h-3.40M116.60 419.50h3.40M1620.30 419.50h-3.40M116.60 406.50h3.40M1620.30 406.50h-3.40M116.60 394.50h5.60M1620.30 394.50h-5.60M116.60 381.50h3.40M1620.30 381.50h-3.40M116.60 369.50h3.40M1620.30 369.50h-3.40M116.60 356.50h3.40M1620.30 356.50h-3.40M116.60 344.50h3.40M1620.30 344.50h-3.40M116.60 331.50h5.60M1620.30 331.50h-5.60M116.60 318.50h3.40M1620.30 318.50h-3.40M116.60 306.50h3.40M1620.30 306.50h-3.40M116.60 293.50h3.40M1620.30 293.50h-3.40M116.60 281.50h3.40M1620.30 281.50h-3.40M116.60 268.50h5.60M1620.30 268.50h-5.60M116.60 256.50h3.40M1620.30 256.50h-3.40M116.60 243.50h3.40M1620.30 243.50h-3.40M116.60 231.50h3.40M1620.30 231.50h-3.40M116.60 218.50h3.40M1620.30 218.50h-3.40M116.60 206.50h5.60M1620.30 206.50h-5.60M116.60 193.50h3.40M1620.30 193.50h-3.40M116.60 181.50h3.40M1620.30 181.50h-3.40M116.60 168.50h3.40M1620.30 168.50h-3.40M116.60 156.50h3.40M1620.30 156.50h-3.40M116.60 143.50h5.60M1620.30 143.50h-5.60M116.60 131.50h3.40M1620.30 131.50h-3.40M116.60 118.50h3.40M1620.30 118.50h-3.40M116.60 106.50h3.40M1620.30 106.50h-3.40M116.60 93.50h3.40M1620.30 93.50h-3.40M116.60 81.50h5.60M1620.30 81.50h-5.60M116.60 68.50h3.40M1620.30 68.50h-3.40M116.60 56.50h3.40M1620.30 56.50h-3.40M116.60 43.50h3.40M1620.30 43.50h-3.40M116.60 31.50h3.40M1620.30 31.50h-3.40M116.60 18.50h5.60M1620.30 18.50h-5.60"/>
<g font-family="'Liberation Serif', 'Times New Roman', Times, serif" font-style="italic" font-size="33.00px" fill="#000">
<text><tspan x="45.70" y="470.00" textLength="26.14" lengthAdjust="spacingAndGlyphs" stroke="#000" stroke-width="0.3">−</tspan><tspan x="71.65" y="467.80" font-size="34.81px" textLength="41.25" lengthAdjust="spacingAndGlyphs">1.5</tspan></text>
<text><tspan x="45.70" y="407.00" textLength="26.14" lengthAdjust="spacingAndGlyphs" stroke="#000" stroke-width="0.3">−</tspan><tspan x="71.65" y="404.80" font-size="34.81px" textLength="41.25" lengthAdjust="spacingAndGlyphs">1.0</tspan></text>
<text><tspan x="45.70" y="345.10" textLength="26.14" lengthAdjust="spacingAndGlyphs" stroke="#000" stroke-width="0.3">−</tspan><tspan x="71.65" y="342.90" font-size="34.81px" textLength="41.25" lengthAdjust="spacingAndGlyphs">0.5</tspan></text>
<text><tspan x="71.65" y="279.50" font-size="34.81px" textLength="41.25" lengthAdjust="spacingAndGlyphs">0.0</tspan></text>
<text><tspan x="71.65" y="216.60" font-size="34.81px" textLength="41.25" lengthAdjust="spacingAndGlyphs">0.5</tspan></text>
<text><tspan x="71.65" y="154.10" font-size="34.81px" textLength="41.25" lengthAdjust="spacingAndGlyphs">1.0</tspan></text>
<text><tspan x="71.65" y="91.80" font-size="34.81px" textLength="41.25" lengthAdjust="spacingAndGlyphs">1.5</tspan></text>
<text><tspan x="71.65" y="29.10" font-size="34.81px" textLength="41.25" lengthAdjust="spacingAndGlyphs">2.0</tspan></text>
<text x="317.35" y="536.40" font-size="35.48px" textLength="16.50" lengthAdjust="spacingAndGlyphs">0</text>
<text x="567.65" y="536.40" font-size="35.48px" textLength="16.50" lengthAdjust="spacingAndGlyphs">2</text>
<text x="817.95" y="536.40" font-size="35.48px" textLength="16.50" lengthAdjust="spacingAndGlyphs">4</text>
<text x="1068.25" y="536.40" font-size="35.48px" textLength="16.50" lengthAdjust="spacingAndGlyphs">6</text>
<text x="1318.55" y="536.40" font-size="35.48px" textLength="16.50" lengthAdjust="spacingAndGlyphs">8</text>
<text x="1560.60" y="536.40" font-size="35.48px" textLength="33.00" lengthAdjust="spacingAndGlyphs">10</text>
<text><tspan x="861.85" y="582.00">y</tspan></text>
<text transform="translate(29.6,259.9) rotate(-90)" text-anchor="middle">x</text>
<text><tspan x="890.35" y="53.90" textLength="85.96" lengthAdjust="spacingAndGlyphs">Bound</tspan> <tspan x="990.10" y="53.90" textLength="92.20" lengthAdjust="spacingAndGlyphs">System</tspan> <tspan x="1093.65" y="53.90" textLength="168.60" lengthAdjust="spacingAndGlyphs">Dissoviation</tspan></text>
<text><tspan x="1028.65" y="91.40" textLength="26.84" lengthAdjust="spacingAndGlyphs">ω</tspan><tspan x="1053.11" y="97.40" font-size="24.69px" textLength="11.75" lengthAdjust="spacingAndGlyphs">0</tspan><tspan x="1064.65" y="96.15" textLength="26.43" lengthAdjust="spacingAndGlyphs" stroke="#000" stroke-width="0.3">=</tspan><tspan x="1090.30" y="91.70" font-size="34.81px" textLength="33.51" lengthAdjust="spacingAndGlyphs">20</tspan></text>
<text><tspan x="1032.70" y="128.70" font-size="34.65px" textLength="19.65" lengthAdjust="spacingAndGlyphs">η</tspan><tspan x="1052.28" y="131.70" textLength="27.45" lengthAdjust="spacingAndGlyphs" stroke="#000" stroke-width="0.3">=</tspan><tspan x="1078.36" y="128.80" font-size="34.81px" textLength="40.93" lengthAdjust="spacingAndGlyphs">1.5</tspan></text>
<text><tspan x="614.08" y="91.90" textLength="14.92" lengthAdjust="spacingAndGlyphs">c</tspan><tspan x="628.58" y="95.00" textLength="27.45" lengthAdjust="spacingAndGlyphs" stroke="#000" stroke-width="0.3">=</tspan><tspan x="654.49" y="91.90" font-size="34.81px" textLength="31.92" lengthAdjust="spacingAndGlyphs">13</tspan></text>
<text><tspan x="1290.01" y="392.60" textLength="14.48" lengthAdjust="spacingAndGlyphs">c</tspan><tspan x="1304.38" y="395.60" textLength="27.45" lengthAdjust="spacingAndGlyphs" stroke="#000" stroke-width="0.3">=</tspan><tspan x="1330.28" y="392.60" font-size="34.81px" textLength="32.20" lengthAdjust="spacingAndGlyphs">15</tspan></text>
<text><tspan x="247.35" y="455.00" font-size="34.65px" textLength="9.45" lengthAdjust="spacingAndGlyphs">t</tspan><tspan x="257.55" y="458.10" textLength="28.18" lengthAdjust="spacingAndGlyphs" stroke="#000" stroke-width="0.3">=</tspan><tspan x="282.71" y="455.60" font-size="35.14px" textLength="17.00" lengthAdjust="spacingAndGlyphs">0</tspan></text>
</g>
</svg>
</body></html>
